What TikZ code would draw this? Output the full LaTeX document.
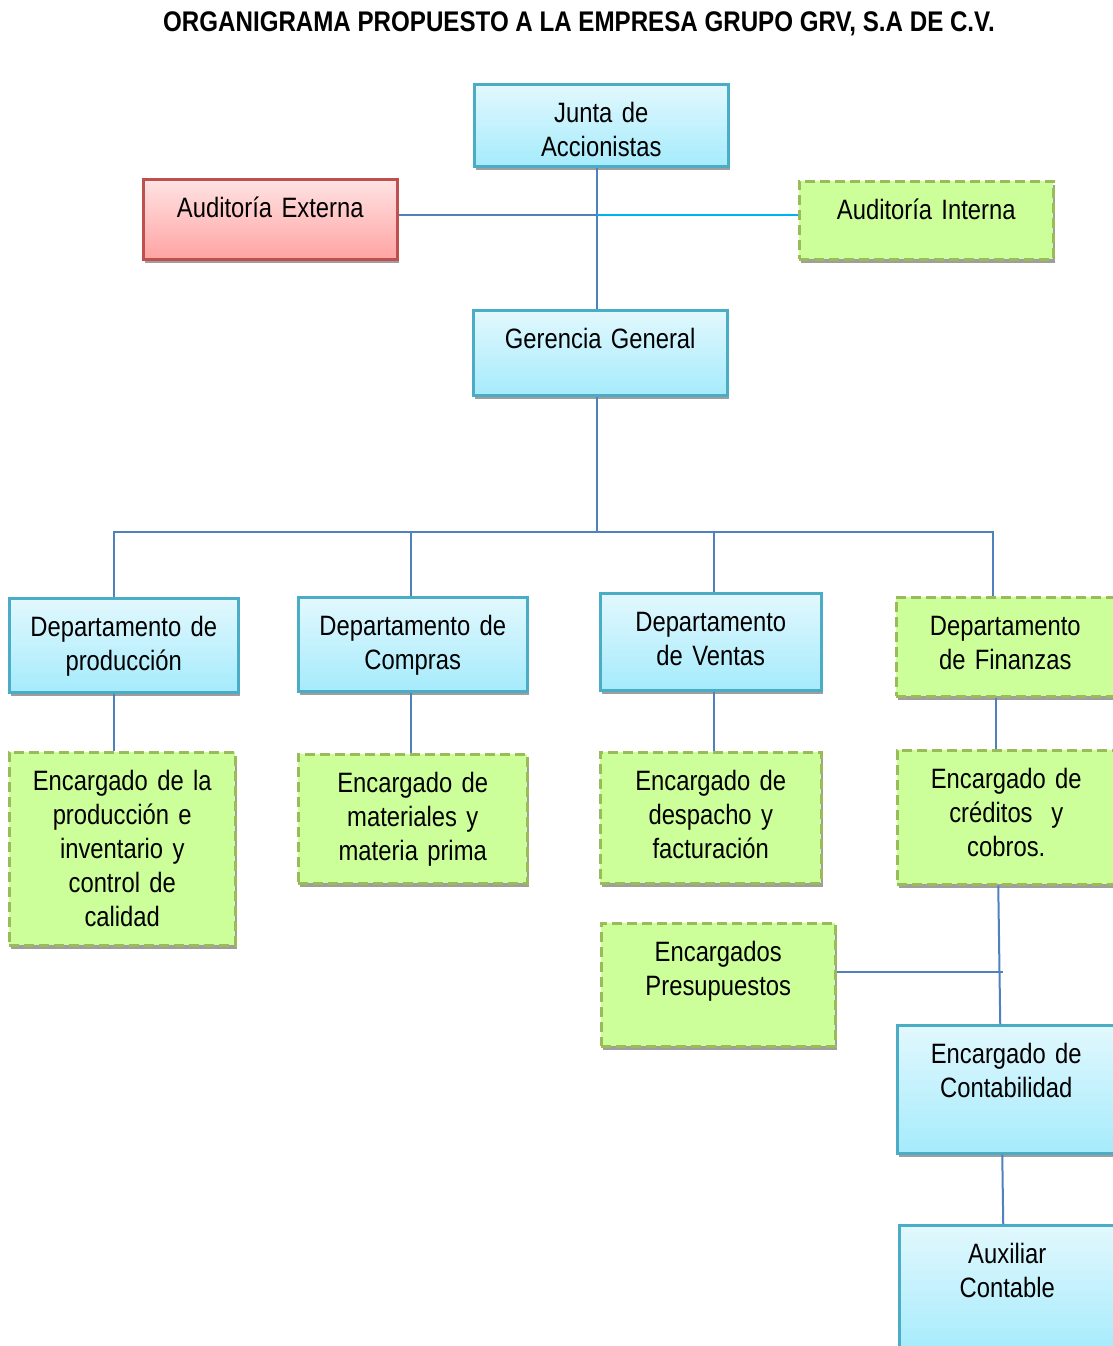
\documentclass[tikz,border=0pt]{standalone}
\usepackage{fontspec}
\setmainfont{Liberation Sans}[FakeStretch=0.85]
\usetikzlibrary{shadows}

\definecolor{bordeazul}{HTML}{4BACC6}
\definecolor{azularriba}{HTML}{E2F8FD}
\definecolor{azulabajo}{HTML}{A5EBFC}
\definecolor{borderojo}{HTML}{C0504D}
\definecolor{rojoarriba}{HTML}{FFE3E3}
\definecolor{rojoabajo}{HTML}{FFA3A3}
\definecolor{bordeverde}{HTML}{9BBB59}
\definecolor{rellenoverde}{HTML}{CCFF99}
\definecolor{lineaazul}{HTML}{4F81BD}
\definecolor{lineacian}{HTML}{00B0F0}

\newcommand{\cajafont}{\fontsize{28}{34}\selectfont}
\newcommand{\titulofont}{\fontsize{28.4}{32}\selectfont\bfseries}

\tikzset{
    orgbox/.style={rectangle, inner sep=0pt, align=center, anchor=north west,
        text height=38pt, font=\cajafont, line width=2.5pt,
        drop shadow={shadow xshift=2pt, shadow yshift=-4pt, fill=black!38, opacity=1}},
    bluebox/.style={orgbox, draw=bordeazul, top color=azularriba, bottom color=azulabajo},
    redbox/.style={orgbox, draw=borderojo, top color=rojoarriba, bottom color=rojoabajo},
    greenbox/.style={orgbox, draw=bordeverde, fill=rellenoverde, dash pattern=on 10pt off 5pt},
    conn/.style={draw=lineaazul, line width=2pt}
}

\begin{document}
\begin{tikzpicture}[x=1pt, y=-1pt]
    \useasboundingbox (0,0) rectangle (1113,1346);

    \node[font=\titulofont, anchor=base] (titulo) at (579,32)
        {ORGANIGRAMA PROPUESTO A LA EMPRESA GRUPO GRV, S.A DE C.V.};

    % nivel superior
    \node[bluebox, text width=254pt, text depth=44pt] (junta) at (473,83) {Junta de\\Accionistas};
    \node[redbox, text width=254pt, text depth=42pt] (externa) at (142,178) {Auditoría Externa};
    \node[greenbox, text width=254pt, text depth=40pt] (interna) at (798,180) {Auditoría Interna};
    \node[bluebox, text width=254pt, text depth=47pt] (gerencia) at (472,309) {Gerencia General};

    % departamentos
    \node[bluebox, text width=229pt, text depth=56pt] (produccion) at (8,597) {Departamento de\\producción};
    \node[bluebox, text width=229pt, text depth=56pt] (compras) at (297,596) {Departamento de\\Compras};
    \node[bluebox, text width=221pt, text depth=59pt] (ventas) at (599,592) {Departamento\\de Ventas};
    \node[greenbox, text width=218pt, text depth=61pt] (finanzas) at (895,596) {Departamento\\de Finanzas};

    % encargados
    \node[greenbox, text width=226pt, text depth=155pt] (encproduccion) at (8,751)
        {Encargado de la\\producción e\\inventario y\\control de\\calidad};
    \node[greenbox, text width=229pt, text depth=91pt] (materiales) at (297,753)
        {Encargado de\\materiales y\\materia prima};
    \node[greenbox, text width=221pt, text depth=93pt] (despacho) at (599,751)
        {Encargado de\\despacho y\\facturación};
    \node[greenbox, text width=218pt, text depth=96pt] (creditos) at (896,749)
        {Encargado de\\créditos~~y\\cobros.};
    \node[greenbox, text width=234pt, text depth=85pt] (presupuestos) at (600,922)
        {Encargados\\Presupuestos};
    \node[bluebox, text width=218pt, text depth=90pt] (contabilidad) at (896,1024)
        {Encargado de\\Contabilidad};
    \node[bluebox, text width=216pt, text depth=90pt] (auxiliar) at (898,1224)
        {Auxiliar\\Contable};

    % lineas
    \coordinate (auditoria) at (597,215);
    \coordinate (bus) at (597,532);
    \coordinate (presupuesto) at (1003,972);

    \draw[conn] (junta.south -| auditoria) -- (gerencia.north -| auditoria);
    \draw[conn] (externa.east |- auditoria) -- (auditoria);
    \draw[conn, draw=lineacian] (auditoria) -- (interna.west |- auditoria);
    \draw[conn] (gerencia.south -| bus) -- (bus);

    \draw[conn] ([xshift=-10pt]produccion.north) |- ([xshift=-12pt]finanzas.north |- bus)
        -- ([xshift=-12pt]finanzas.north);
    \draw[conn] ([xshift=-2pt]compras.north) -- ([xshift=-2pt]compras.north |- bus);
    \draw[conn] ([xshift=3pt]ventas.north) -- ([xshift=3pt]ventas.north |- bus);

    \draw[conn] ([xshift=-10pt]produccion.south) -- ([xshift=-10pt]produccion.south |- encproduccion.north);
    \draw[conn] ([xshift=-2pt]compras.south) -- ([xshift=-2pt]compras.south |- materiales.north);
    \draw[conn] ([xshift=3pt]ventas.south) -- ([xshift=3pt]ventas.south |- despacho.north);
    \draw[conn] ([xshift=-9pt]finanzas.south) -- ([xshift=-9pt]finanzas.south |- creditos.north);
    \draw[conn] ([xshift=-8pt]creditos.south) -- ([xshift=-6pt]contabilidad.north);
    \draw[conn] (presupuestos.east |- presupuesto) -- (presupuesto);
    \draw[conn] ([xshift=-4pt]contabilidad.south) -- ([xshift=-4pt]auxiliar.north);
\end{tikzpicture}
\end{document}
